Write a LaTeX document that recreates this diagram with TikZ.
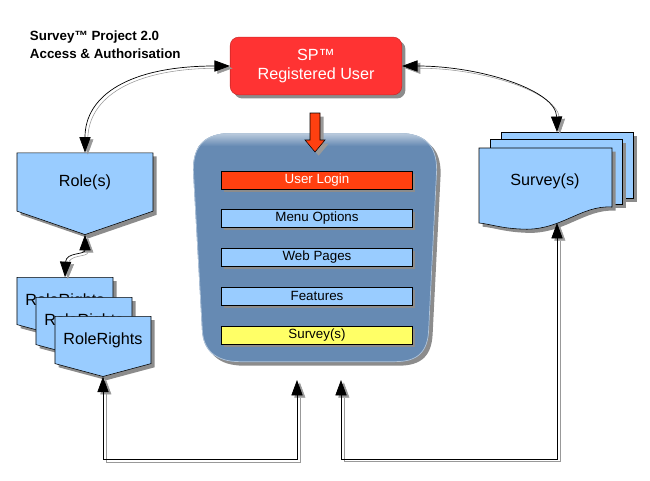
\documentclass[tikz,border=0pt]{standalone}
\usepackage{fontspec}
\setmainfont{Liberation Sans}
\usetikzlibrary{shapes,shapes.symbols,arrows.meta,shadows,positioning}

\definecolor{spred}{HTML}{FF3333}
\definecolor{loginred}{HTML}{FF4010}
\definecolor{paleblue}{HTML}{99CCFF}
\definecolor{paleyellow}{HTML}{FFFF66}
\definecolor{portalblue}{HTML}{668AB3}

\newcommand{\portaloutline}{(232,133) -- (398,133) .. controls (425,133) and (437,145) .. (437,170)
    -- (429,330) .. controls (428,352) and (418,362) .. (395,362) -- (240,362)
    .. controls (215,362) and (203,350) .. (202,330) -- (193,170)
    .. controls (193,145) and (205,133) .. (232,133) -- cycle}

\tikzset{
    dropshade/.style={drop shadow={shadow xshift=2.6pt, shadow yshift=-2.6pt, fill=black!45, opacity=1}},
    userbox/.style={rectangle, rounded corners=6pt, fill=spred, draw=spred!80!black, dropshade,
        minimum width=122pt, minimum height=41pt, align=center, text=white,
        font=\fontsize{11.5}{13}\selectfont},
    loginarrow/.style={draw, fill=loginred, line join=miter,
        drop shadow={shadow xshift=2.6pt, shadow yshift=-2.6pt, fill=black!40, opacity=1}},
    portal/.style={fill=portalblue, dropshade},
    bar/.style={rectangle, draw, fill=paleblue, minimum width=136pt, minimum height=12.8pt,
        inner sep=0pt, font=\fontsize{9.5}{11}\selectfont,
        drop shadow={shadow xshift=2pt, shadow yshift=-2pt, fill=black!45, opacity=1}},
    offpage/.style={signal, signal to=south, signal from=nowhere, draw, fill=paleblue, dropshade,
        font=\fontsize{11.5}{13}\selectfont},
    sheet/.style={draw, fill=paleblue, dropshade},
    link/.style={{Triangle[length=11pt, width=8pt]}-{Triangle[length=11pt, width=8pt]}, line width=0.5pt,
        preaction={draw=black!40, transform canvas={xshift=2pt, yshift=-1.6pt}}}
}

\begin{document}
\begin{tikzpicture}[x=0.025cm, y=-0.025cm]

    \useasboundingbox (0,0) rectangle (650,480);

    % Titulo
    \node[anchor=north west, align=left, font=\bfseries\fontsize{9.5}{12.5}\selectfont] (title) at (25,26)
        {Survey™ Project 2.0\\Access \& Authorisation};

    % Utilizador
    \node[userbox] (user) at (316,66) {SP™\\Registered User};

    % Portal
    \path[portal] \portaloutline;
    \begin{scope}
        \clip \portaloutline;
        \shade[top color=portalblue!35!white, bottom color=portalblue] (190,131) rectangle (440,146);
        \draw[portalblue!50!white, line width=1pt] \portaloutline;
    \end{scope}
    \node[bar, fill=loginred, text=white] (userlogin) at (317,180) {User Login};
    \node[bar] (menu) at (317,218) {Menu Options};
    \node[bar] (web) at (317,257) {Web Pages};
    \node[bar] (features) at (317,296) {Features};
    \node[bar, fill=paleyellow] (surveys) at (317,335) {Survey(s)};
    \coordinate (portalinA) at (297,380);
    \coordinate (portalinB) at (341,380);

    % Seta de login
    \path[loginarrow] (310,113) -- (320,113) -- (320,140) -- (325,140) -- (315,152)
        -- (305,140) -- (310,140) -- cycle;

    % Role(s)
    \node[offpage, minimum width=96.7pt, minimum height=49pt, signal pointer angle=142] (role) at (85,182) {Role(s)};

    % RoleRights
    \node[offpage, minimum width=68.3pt, minimum height=42pt, signal pointer angle=150] (rightsA) at (65,301) {RoleRights};
    \node[offpage, minimum width=68.3pt, minimum height=42pt, signal pointer angle=150] (rightsB) at (84,321) {RoleRights};
    \node[offpage, minimum width=68.3pt, minimum height=42pt, signal pointer angle=150] (rightsC) at (103,340) {RoleRights};

    % Survey(s)
    \filldraw[sheet] (501,132) rectangle (633,198);
    \filldraw[sheet] (490,139) rectangle (622,204);
    \path[sheet] (479,148) -- (612,148) -- (612,207) .. controls (580,205) and (560,232) .. (520,229)
        .. controls (500,228) and (490,224) .. (479,223) -- cycle;
    \node[font=\fontsize{11.5}{13}\selectfont] (survey) at (545,181) {Survey(s)};
    \coordinate (surveytop) at (557,132);
    \coordinate (surveybot) at (557,223);

    % Ligacoes
    \draw[link] (role.north) .. controls (85,95) and (130,66) .. (user.west);
    \draw[link] (user.east) .. controls (480,66) and (556,90) .. (surveytop);
    \draw[link] (role.south) .. controls (85,255) and (66,252) .. (rightsA.north);
    \draw[link] (rightsC.south) -- ++(0,83) -| (portalinA);
    \draw[link] (surveybot) -- ++(0,236) -| (portalinB);

\end{tikzpicture}
\end{document}
